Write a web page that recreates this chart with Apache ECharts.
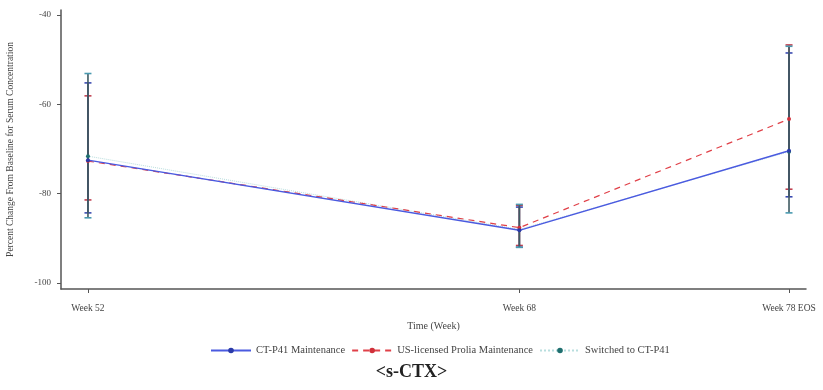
<!DOCTYPE html>
<html>
<head>
<meta charset="utf-8">
<script src="https://cdn.jsdelivr.net/npm/echarts@6/dist/echarts.min.js"></script>
<style>
  html, body { margin: 0; padding: 0; background: #fff; }
  #chart { width: 823px; height: 390px; }
</style>
</head>
<body>
<div id="chart"></div>
<script>
// Visit weeks and their axis labels
const weeks = [52, 68, 78];
const weekLabels = ['Week 52', 'Week 68', 'Week 78 EOS'];
const yTicks = [-100, -80, -60, -40];

// CT-P41 Maintenance: mean and error-bar limits
const ctMean = [-72.5, -88.2, -70.4];
const ctLow  = [-84.3, -92.0, -80.7];
const ctHigh = [-55.2, -83.0, -48.5];

// US-licensed Prolia Maintenance
const usMean = [-72.7, -87.6, -63.3];
const usLow  = [-81.4, -91.6, -79.0];
const usHigh = [-58.1, -82.6, -46.7];

// Switched to CT-P41
const swMean = [-71.6, -88.0, -70.6];
const swLow  = [-85.4, -92.0, -84.3];
const swHigh = [-53.1, -82.4, -47.0];

const FONT = '"Liberation Serif", "DejaVu Serif", serif';

function meanData(m) { return weeks.map((w, i) => [w, m[i]]); }
function barData(lo, hi) { return weeks.map((w, i) => [w, lo[i], hi[i]]); }

// Vertical whisker with caps, drawn through the axes' own scales
function errorBars(name, lo, hi, stemColor, capColor, z) {
  return {
    type: 'custom',
    name: name,
    data: barData(lo, hi),
    z: z,
    silent: true,
    renderItem: function (params, api) {
      const x = api.value(0);
      const pLo = api.coord([x, api.value(1)]);
      const pHi = api.coord([x, api.value(2)]);
      const half = 3.5;
      const cap = { stroke: capColor, lineWidth: 1.6 };
      return {
        type: 'group',
        children: [
          { type: 'line', shape: { x1: pLo[0], y1: pLo[1], x2: pHi[0], y2: pHi[1] }, style: { stroke: stemColor, lineWidth: 1.6 } },
          { type: 'line', shape: { x1: pLo[0] - half, y1: pLo[1], x2: pLo[0] + half, y2: pLo[1] }, style: cap },
          { type: 'line', shape: { x1: pHi[0] - half, y1: pHi[1], x2: pHi[0] + half, y2: pHi[1] }, style: cap }
        ]
      };
    }
  };
}

const chart = echarts.init(document.getElementById('chart'));
chart.setOption({
  animation: false,
  backgroundColor: '#ffffff',
  title: {
    text: '<s-CTX>',
    left: 'center',
    top: 358,
    textStyle: { fontFamily: FONT, fontSize: 18, fontWeight: 'bold', color: '#222' }
  },
  grid: { left: 61, right: 17, top: 10, bottom: 101, outerBoundsMode: 'none' },
  legend: {
    top: 340,
    left: 205,
    itemWidth: 40,
    itemHeight: 7,
    itemGap: 6,
    textStyle: { fontFamily: FONT, fontSize: 10.5, color: '#444' },
    data: ['CT-P41 Maintenance', 'US-licensed Prolia Maintenance', 'Switched to CT-P41']
  },
  xAxis: {
    type: 'value',
    min: 51.0,
    max: 78.63,
    name: 'Time (Week)',
    nameLocation: 'middle',
    nameGap: 32,
    nameTextStyle: { fontFamily: FONT, fontSize: 10, color: '#444' },
    splitLine: { show: false },
    axisLine: { show: true, onZero: false, lineStyle: { color: '#555', width: 1.5 } },
    axisTick: { show: true, length: 4, customValues: weeks, lineStyle: { color: '#555' } },
    axisLabel: {
      customValues: weeks,
      margin: 14,
      fontFamily: FONT, fontSize: 9.5, color: '#444',
      formatter: function (v) { return weekLabels[weeks.indexOf(v)] || ''; }
    }
  },
  yAxis: {
    type: 'value',
    min: -101.34,
    max: -38.88,
    name: 'Percent Change From Baseline for Serum Concentration',
    nameLocation: 'middle',
    nameGap: 46,
    nameTextStyle: { fontFamily: FONT, fontSize: 9.5, color: '#444' },
    splitLine: { show: false },
    axisLine: { show: true, onZero: false, lineStyle: { color: '#555', width: 1.5 } },
    axisTick: { show: true, length: 4, customValues: yTicks, lineStyle: { color: '#555' } },
    axisLabel: { customValues: yTicks, margin: 10, fontFamily: FONT, fontSize: 9, color: '#444' }
  },
  series: [
    errorBars('us-bars', usLow, usHigh, '#b04050', '#c04050', 1),
    errorBars('ct-bars', ctLow, ctHigh, '#3a3f70', '#3a4ab0', 2),
    errorBars('sw-bars', swLow, swHigh, '#3f5a62', '#4a9ab0', 2),
    {
      type: 'line',
      name: 'Switched to CT-P41',
      data: meanData(swMean),
      z: 3,
      symbol: 'circle',
      symbolSize: 4,
      itemStyle: { color: '#1f6f6f' },
      lineStyle: { color: '#b8dede', width: 1, type: 'dotted' }
    },
    {
      type: 'line',
      name: 'US-licensed Prolia Maintenance',
      data: meanData(usMean),
      z: 4,
      symbol: 'circle',
      symbolSize: 4,
      itemStyle: { color: '#d0303a' },
      lineStyle: { color: '#e04048', width: 1.2, type: [6, 5] }
    },
    {
      type: 'line',
      name: 'CT-P41 Maintenance',
      data: meanData(ctMean),
      z: 5,
      symbol: 'circle',
      symbolSize: 4,
      itemStyle: { color: '#2a3aa8' },
      lineStyle: { color: '#4a5ae0', width: 1.4 }
    }
  ]
});
</script>
</body>
</html>
